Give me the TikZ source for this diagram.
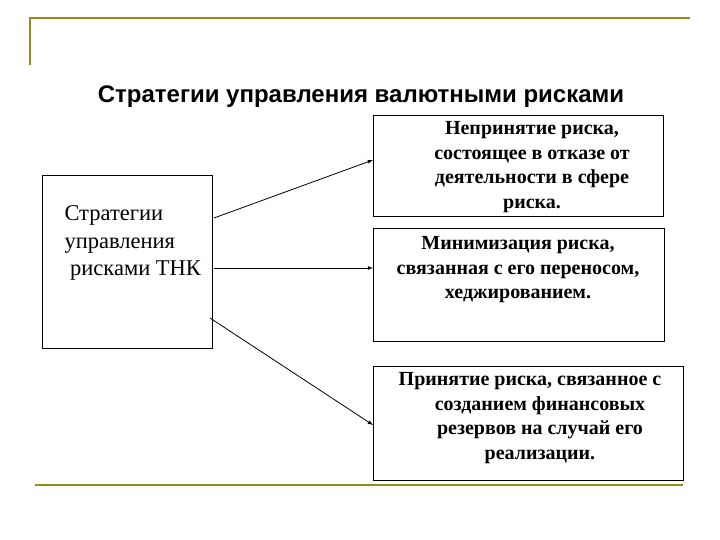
\documentclass[tikz,border=0pt]{standalone}
\usepackage{fontspec}
\setmainfont{Liberation Serif}
\newfontfamily\titlefont{Liberation Sans}
\begin{document}
\begin{tikzpicture}[x=1pt,y=-1pt,
  gold/.style={draw=olive!70!yellow!80!black,line width=2pt},
  rbox/.style={draw,line width=0.8pt,anchor=north west,inner sep=0pt},
  rtext/.style={font=\fontsize{20}{24.5}\selectfont\bfseries,align=center},
  arr/.style={-latex,line width=0.8pt}]
\useasboundingbox (0,0) rectangle (720,540);
\draw[gold] (30,65) -- (30,18) -- (690,18);
\draw[gold] (35,485) -- (683,485);
\node[font=\titlefont\fontsize{24}{28}\selectfont\bfseries] (title) at (361,97) {Стратегии управления валютными рисками};
\node[rbox,minimum width=170,minimum height=173] (L) at (42,175) {};
\node[font=\fontsize{22.5}{27.5}\selectfont,align=left,anchor=west] (Lt) at (61,243) {Стратегии\\управления\\\ рисками ТНК};
\node[rbox,minimum width=290,minimum height=101] (A) at (373,115) {};
\node[rtext] (At) at (532,167) {Непринятие риска,\\состоящее в отказе от\\деятельности в сфере\\риска.};
\node[rbox,minimum width=291,minimum height=113] (B) at (373,228) {};
\node[rtext] (Bt) at (518,270) {Минимизация риска,\\связанная с его переносом,\\хеджированием.};
\node[rbox,minimum width=310,minimum height=114] (C) at (373,366) {};
\node[rtext] (Ct) at (530,418) {Принятие риска, связанное с\\\quad созданием финансовых\\\quad резервов на случай его\\\quad реализации.};
\coordinate (s1) at (214,218);
\coordinate (s2) at (214,268);
\coordinate (s3) at (210,318);
\draw[arr] (s1) -- (A.west |- 0,160);
\draw[arr] (s2) -- (B.west |- 0,268);
\draw[arr] (s3) -- (C.west |- 0,425);
\end{tikzpicture}
\end{document}
